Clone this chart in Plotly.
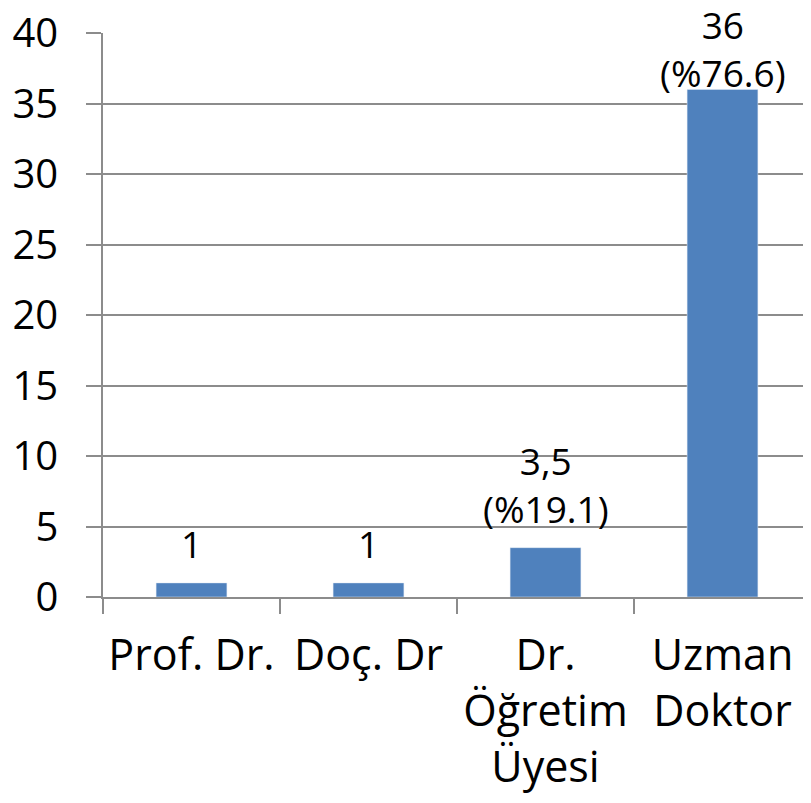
import plotly.graph_objects as go

categories = ["Prof. Dr.", "Doç. Dr", "Dr.<br>Öğretim<br>Üyesi", "Uzman<br>Doktor"]
values = [1, 1, 3.5, 36]
labels = ["1", "1", "3,5<br>(%19.1)", "36<br>(%76.6)"]

font_name = "Open Sans"
gray = "#8c8c8c"

# page has an 8px body margin, so the figure is sized to fit inside it
W, H = 803, 787
M = dict(l=95, r=0, t=25, b=198)
y_max = 40
label_size = 37

fig = go.Figure(
    go.Bar(
        x=categories,
        y=values,
        marker=dict(color="#4F81BD"),
        width=0.4,
        hoverinfo="x+y",
    )
)

# data labels above the bars, pushed down when they would leave the page
plot_h = H - M["t"] - M["b"]
for cat, v, lab in zip(categories, values, labels):
    n_lines = lab.count("<br>") + 1
    box_h = n_lines * label_size * 1.3 + 4
    bar_top = M["t"] + (1 - v / y_max) * plot_h + 8
    shift = 12
    if bar_top - shift - box_h < 0:
        shift = bar_top - box_h
    fig.add_annotation(
        x=cat, y=v, text=lab, showarrow=False,
        yanchor="bottom", yshift=shift,
        font=dict(size=label_size, color="black", family=font_name),
    )

fig.update_layout(
    width=W,
    height=H,
    margin=M,
    plot_bgcolor="white",
    paper_bgcolor="white",
    font=dict(family=font_name, size=43, color="black"),
    showlegend=False,
)

fig.update_yaxes(
    range=[0, y_max],
    dtick=5,
    automargin=False,
    showgrid=True,
    gridcolor=gray,
    gridwidth=1.5,
    showline=True,
    linecolor=gray,
    linewidth=1.5,
    ticks="outside",
    ticklen=15,
    tickcolor=gray,
    tickwidth=1.5,
    ticklabelstandoff=20,
    ticklabeloverflow="allow",
    tickfont=dict(size=40),
    zeroline=False,
)

fig.update_xaxes(
    automargin=False,
    showgrid=False,
    showline=True,
    linecolor=gray,
    linewidth=1.5,
    ticks="outside",
    tickson="boundaries",
    ticklen=15,
    tickcolor=gray,
    tickwidth=1.5,
    tickangle=0,
    ticklabelstandoff=20,
    ticklabeloverflow="allow",
    tickfont=dict(size=43),
)

fig.write_html("out.html")
